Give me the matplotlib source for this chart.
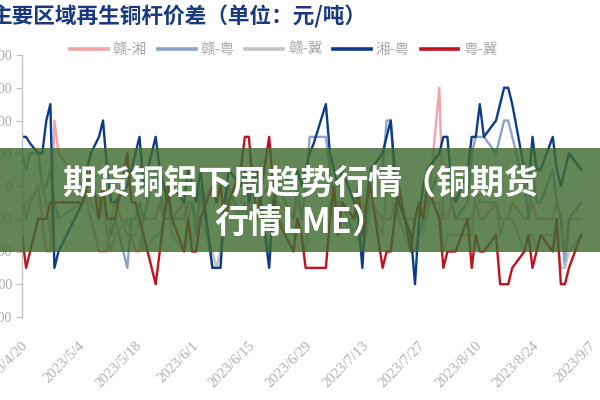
import matplotlib
matplotlib.use("Agg")
import matplotlib.pyplot as plt
import matplotlib.transforms as mtransforms
from matplotlib.patches import Rectangle
import pandas as pd

dates = ["2023-04-19","2023-04-20","2023-04-21","2023-04-23","2023-04-24","2023-04-25","2023-04-26","2023-04-27","2023-04-28",
         "2023-05-04","2023-05-05","2023-05-06","2023-05-08","2023-05-09","2023-05-10","2023-05-11","2023-05-12",
         "2023-05-15","2023-05-16","2023-05-17","2023-05-18","2023-05-19","2023-05-22","2023-05-23","2023-05-24",
         "2023-05-25","2023-05-26","2023-05-29","2023-05-30","2023-05-31","2023-06-01","2023-06-02","2023-06-05",
         "2023-06-06","2023-06-07","2023-06-08","2023-06-09","2023-06-12","2023-06-13","2023-06-14","2023-06-15",
         "2023-06-16","2023-06-19","2023-06-20","2023-06-21","2023-06-25","2023-06-26","2023-06-27","2023-06-28",
         "2023-06-29","2023-06-30","2023-07-03","2023-07-04","2023-07-05","2023-07-06","2023-07-07","2023-07-10",
         "2023-07-11","2023-07-12","2023-07-13","2023-07-14","2023-07-17","2023-07-18","2023-07-19","2023-07-20",
         "2023-07-21","2023-07-24","2023-07-25","2023-07-26","2023-07-27","2023-07-28","2023-07-31","2023-08-01",
         "2023-08-02","2023-08-03","2023-08-04","2023-08-07","2023-08-08","2023-08-09","2023-08-10","2023-08-11",
         "2023-08-14","2023-08-15","2023-08-16","2023-08-17","2023-08-18","2023-08-21","2023-08-22","2023-08-23",
         "2023-08-24","2023-08-25","2023-08-28","2023-08-29","2023-08-30","2023-08-31","2023-09-01","2023-09-04"]

gan_xiang = [-50,-100,-50,0,-100,-200,-200,200,100,0,-50,-100,-200,-200,-200,-100,-50,-150,-150,-200,-200,-100,
             -100,-50,-100,-50,-100,-50,-100,-50,-100,-50,0,0,0,-100,-50,-100,-100,-50,-100,-50,0,-100,-50,-100,
             -50,-100,-100,-100,-100,-100,-50,-100,-50,-100,-100,-50,-50,-100,-50,-100,-100,-100,-50,-100,-100,
             -100,-50,-100,-100,300,-100,-100,-50,-100,-100,-100,-50,-100,-100,-50,-100,-100,-100,-50,-100,-100,
             -50,-100,-100,-100,-50,-100,-200,-100,-100]
gan_yue = [100,50,100,100,0,0,50,-50,-100,-50,0,0,-50,0,-150,-150,-100,-250,-100,-100,-50,-100,50,0,-100,-100,
           -100,-100,-50,-50,-150,0,-250,-250,-200,-100,0,-100,-50,-100,-100,0,-200,-100,0,-100,0,-100,0,150,
           150,150,50,-50,-50,-50,-150,-150,-200,-100,0,50,200,200,0,-100,-200,-200,-150,-100,-50,50,50,50,-50,
           -100,-50,100,150,150,150,100,150,200,200,150,0,-100,50,-50,-50,50,-50,-100,-250,-100,-50]
gan_ji = [-100,-50,-50,0,0,-50,-150,-100,-100,-50,0,-50,-100,-50,-150,-200,-150,-100,-150,-150,-100,-200,-150,
          -150,-100,-50,-150,-200,-150,-150,-200,-100,-200,-250,-200,-150,-50,-50,0,50,-100,-100,-50,-100,-100,
          -150,-100,-150,-200,-100,-100,-100,-50,-50,-150,-100,-150,-100,-200,-150,-50,-150,0,0,-100,-100,-200,
          -200,-150,-150,-50,-50,-200,-150,-150,-150,-150,-150,0,-50,-50,-50,-150,-100,-100,-100,-200,-150,-150,
          -200,-150,-150,-150,-250,-250,-200,-150]
xiang_yue = [150,150,130,100,100,200,250,-250,-200,-50,50,100,150,200,50,-50,-50,0,50,100,150,0,150,50,0,-50,0,
             -50,50,0,-50,50,-250,-250,-250,-50,50,0,50,-50,0,50,-250,-50,50,0,50,0,50,100,130,250,100,50,0,50,
             -50,-100,-250,-50,50,100,150,200,50,-50,-150,-300,-100,0,50,100,150,150,0,-50,50,150,150,250,150,
             200,250,300,300,250,50,0,150,50,50,150,50,0,50,100,50]
yue_ji = [-150,-250,-200,-100,-100,-100,-50,-50,-50,-50,0,50,-100,0,-100,-100,-100,100,-50,-50,-100,-150,-300,
          -200,-100,0,-100,-200,-100,-200,-200,-100,0,-50,0,-100,-50,50,150,150,0,-100,150,0,-100,-200,-100,-150,
          -250,-250,-250,-250,-100,0,-150,-50,-100,0,-150,-50,0,-250,-200,-200,-100,0,-200,-100,-50,-100,0,-100,
          -250,-200,-200,-200,-100,-250,-150,-200,-200,-150,-300,-300,-300,-250,-200,-150,-250,-200,-150,-200,
          -100,-300,-300,-250,-150]

series_names = ["赣-湘", "赣-粤", "赣-冀", "湘-粤", "粤-冀"]
series_values = [gan_xiang, gan_yue, gan_ji, xiang_yue, yue_ji]
series_colors = ["#f2a3ab", "#8fa2c9", "#c4c4c4", "#0d3b8c", "#c4101e"]

title_text = "主要区域再生铜杆价差（单位：元/吨）"
banner_line1 = "期货铜铝下周趋势行情（铜期货"
banner_line2 = "行情LME）"
yticks = [-400, -300, -200, -100, 0, 100, 200, 300, 400]

cjk = ["Noto Sans CJK SC", "DejaVu Sans"]
x = pd.to_datetime(dates)

W, H = 600, 400
fig = plt.figure(figsize=(6, 4), dpi=100)
ax = fig.add_axes([22 / W, 1 - 317 / H, (650 - 22) / W, (317 - 55) / H])

for name, vals, col in zip(series_names, series_values, series_colors):
    ax.plot(x, vals, color=col, lw=1.7, label=name)

x0 = pd.Timestamp("2023-04-19")
ax.set_xlim(x0, x0 + pd.Timedelta(days=148))
ax.set_ylim(-400, 400)
ax.set_yticks(yticks)
ax.set_yticklabels([str(v) for v in yticks], family="Liberation Serif", fontsize=10, color="#aaaaaa")

ticks = pd.date_range("2023-04-20", "2023-09-21", freq="14D")
ax.set_xticks(ticks)
labels = ax.set_xticklabels([f"{d.year}/{d.month}/{d.day}" for d in ticks], rotation=45, ha="right",
                            va="center", rotation_mode="anchor", family="Liberation Serif",
                            fontsize=10.5, color="#b0b0b0")
shift = mtransforms.ScaledTranslation(5 / 100, 0, fig.dpi_scale_trans)
for lab in labels:
    lab.set_transform(lab.get_transform() + shift)
ax.tick_params(axis="x", length=0, pad=19)
ax.tick_params(axis="y", length=4, width=0.9, color="#bfbfbf", pad=3)
for s in ["top", "right", "bottom"]:
    ax.spines[s].set_visible(False)
ax.spines["left"].set_color("#bfbfbf")
ax.spines["left"].set_linewidth(0.9)

leg = fig.legend(loc="center left", bbox_to_anchor=(70 / W, 1 - 50 / H), ncol=5, frameon=False,
                 borderpad=0, borderaxespad=0, handlelength=2.6, handletextpad=0.34,
                 columnspacing=0.72, prop={"family": cjk, "size": 10.5})
for t in leg.get_texts():
    t.set_color("#aaaaaa")
for h in leg.legend_handles:
    h.set_linewidth(2.6)

fig.text(-9 / W, 1 - 16.5 / H, title_text, family=cjk, fontsize=15.6, fontweight="bold",
         color="#1a3a80", ha="left", va="center")

fig.add_artist(Rectangle((0, 1 - 252 / H), 1, (252 - 148) / H, transform=fig.transFigure,
                         facecolor="#3f6b30", alpha=0.82, edgecolor="none", zorder=5))
fig.text(0.5, 1 - 183 / H, banner_line1, family=cjk, fontsize=24.5, fontweight="bold",
         color="white", ha="center", va="center", zorder=6)
fig.text(0.5, 1 - 222 / H, banner_line2, family=cjk, fontsize=24.5, fontweight="bold",
         color="white", ha="center", va="center", zorder=6)

fig.savefig("out.png", dpi=100)
